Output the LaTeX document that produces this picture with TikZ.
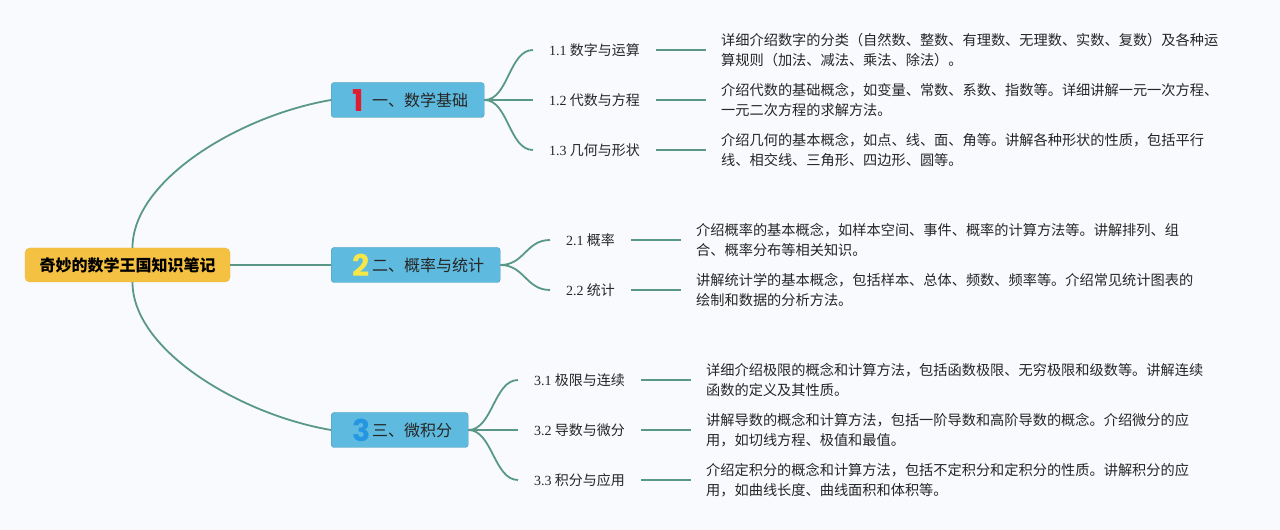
\documentclass[tikz,border=0pt]{standalone}
\usepackage{fontspec}
\setmainfont{Liberation Serif}
\newfontfamily\cjk{Noto Sans CJK SC}
\newfontfamily\numfont{Poppins}
\usetikzlibrary{positioning}
\definecolor{bgcol}{RGB}{248,250,254}
\definecolor{rootfill}{RGB}{245,193,66}
\definecolor{rootedge}{RGB}{236,180,50}
\definecolor{branchfill}{RGB}{94,186,222}
\definecolor{branchedge}{RGB}{72,152,182}
\definecolor{linkcol}{RGB}{90,152,134}
\definecolor{textdark}{RGB}{38,38,38}
\definecolor{numred}{RGB}{222,30,48}
\definecolor{numyellow}{RGB}{246,230,72}
\definecolor{numblue}{RGB}{36,150,226}
\newcommand\bignum[2]{\hspace*{5pt}\smash{\raisebox{-5pt}{\makebox[20pt][l]{\numfont\bfseries\fontsize{30}{30}\selectfont\color{#1}#2}}}}
\newcommand\secnum[1]{{\rmfamily #1}}

\begin{document}
\begin{tikzpicture}[
    x=1pt, y=1pt,
    node distance=50pt,
    root/.style={rectangle, rounded corners=5pt, draw=rootedge, fill=rootfill, minimum width=205pt, minimum height=34pt, font=\cjk\bfseries\fontsize{16}{18}\selectfont, text=black},
    branch/.style={rectangle, rounded corners=3pt, draw=branchedge, fill=branchfill, minimum height=35pt, inner xsep=16pt, anchor=west, font=\cjk\fontsize{16}{18}\selectfont, text=textdark},
    topic/.style={inner xsep=16pt, anchor=west, font=\cjk\fontsize{14}{16}\selectfont, text=textdark},
    note/.style={inner xsep=15pt, align=left, font=\cjk\fontsize{14.2}{19.5}\selectfont, text=textdark},
    link/.style={draw=linkcol, line width=1.8pt},
    bar/.style={draw=linkcol, line width=2.4pt}
]

\fill[bgcol] (0,0) rectangle (1280,530);

% centre and first level
\node[root] (root) at (127.5,265) {奇妙的数学王国知识笔记};
\node[branch] (b1) at (331,430) {\bignum{numred}{1}一、数学基础};
\node[branch] (b2) at (331,265) {\bignum{numyellow}{2}二、概率与统计};
\node[branch] (b3) at (331,100) {\bignum{numblue}{3}三、微积分};

% second level
\node[topic] (s11) at (533,480) {\secnum{1.1} 数字与运算};
\node[topic] (s12) at (533,430) {\secnum{1.2} 代数与方程};
\node[topic] (s13) at (533,380) {\secnum{1.3} 几何与形状};
\node[topic] (s21) at (550,290) {\secnum{2.1} 概率};
\node[topic] (s22) at (550,240) {\secnum{2.2} 统计};
\node[topic] (s31) at (518,150) {\secnum{3.1} 极限与连续};
\node[topic] (s32) at (518,100) {\secnum{3.2} 导数与微分};
\node[topic] (s33) at (518,50) {\secnum{3.3} 积分与应用};

% notes
\node[note, right=of s11] (d11) {详细介绍数字的分类（自然数、整数、有理数、无理数、实数、复数）及各种运\\算规则（加法、减法、乘法、除法）。};
\node[note, right=of s12] (d12) {介绍代数的基础概念，如变量、常数、系数、指数等。详细讲解一元一次方程、\\一元二次方程的求解方法。};
\node[note, right=of s13] (d13) {介绍几何的基本概念，如点、线、面、角等。讲解各种形状的性质，包括平行\\线、相交线、三角形、四边形、圆等。};
\node[note, right=of s21] (d21) {介绍概率的基本概念，如样本空间、事件、概率的计算方法等。讲解排列、组\\合、概率分布等相关知识。};
\node[note, right=of s22] (d22) {讲解统计学的基本概念，包括样本、总体、频数、频率等。介绍常见统计图表的\\绘制和数据的分析方法。};
\node[note, right=of s31] (d31) {详细介绍极限的概念和计算方法，包括函数极限、无穷极限和级数等。讲解连续\\函数的定义及其性质。};
\node[note, right=of s32] (d32) {讲解导数的概念和计算方法，包括一阶导数和高阶导数的概念。介绍微分的应\\用，如切线方程、极值和最值。};
\node[note, right=of s33] (d33) {介绍定积分的概念和计算方法，包括不定积分和定积分的性质。讲解积分的应\\用，如曲线长度、曲线面积和体积等。};

% connectors
\draw[link] ([xshift=5pt]root.north) .. controls +(0,68) and +(-91,-15.5) .. (b1.west);
\draw[link] (root.east) -- (b2.west);
\draw[link] ([xshift=5pt]root.south) .. controls +(0,-68) and +(-91,15.5) .. (b3.west);

\foreach \s in {s11,s12,s13}
  \draw[link] (b1.east) .. controls +(24,0) and +(-24,0) .. (\s.west);
\foreach \s in {s21,s22}
  \draw[link] (b2.east) .. controls +(24,0) and +(-24,0) .. (\s.west);
\foreach \s in {s31,s32,s33}
  \draw[link] (b3.east) .. controls +(24,0) and +(-24,0) .. (\s.west);

\foreach \s/\d in {s11/d11,s12/d12,s13/d13,s21/d21,s22/d22,s31/d31,s32/d32,s33/d33}
  \draw[bar] (\s.east) -- (\s.east -| \d.west);

\end{tikzpicture}
\end{document}
